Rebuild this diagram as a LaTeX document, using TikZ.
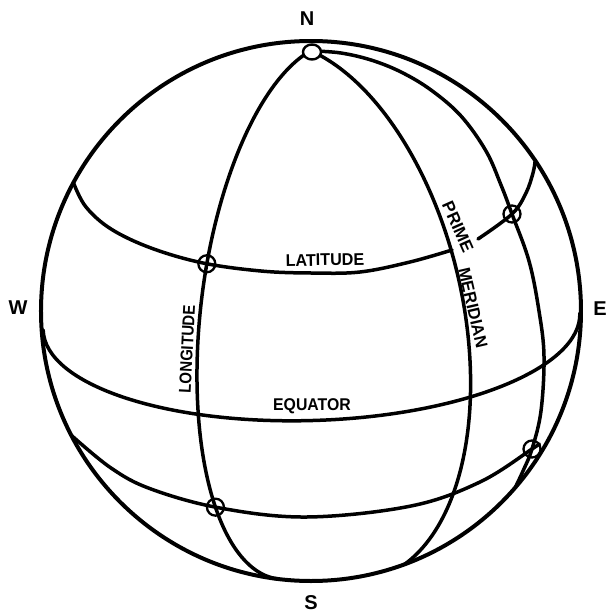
\documentclass[tikz,border=0pt]{standalone}
\usepackage{fontspec}
\usepackage{graphicx}
\setmainfont{Liberation Sans}
\usetikzlibrary{intersections}
\begin{document}
\begin{tikzpicture}[x=1pt,y=1pt,line cap=round,line join=round,
  curve/.style={line width=3.5pt},
  rimline/.style={line width=4pt},
  ringmark/.style={draw,circle,line width=2.3pt,minimum size=17pt,inner sep=0pt},
  lbl/.style={font=\bfseries\fontsize{17}{17}\selectfont,inner sep=0pt},
  compass/.style={font=\bfseries\fontsize{20}{20}\selectfont,inner sep=0pt}]
\useasboundingbox (-311,-303) rectangle (298,311);
\fill[white] (-311,-303) rectangle (298,311);

% outline of the globe
\draw[rimline] (0,0) circle[radius=270pt];

% equator
\draw[curve,shift={(0.5,-10.5)},rotate=1.8] (180:268.5pt and 99pt)
  arc[start angle=180,end angle=360,x radius=268.5pt,y radius=99pt];

% meridians
\draw[curve,name path=M1,rotate=83] (17:270pt and 110pt)
  arc[start angle=17,end angle=180,x radius=270pt,y radius=110pt];
\draw[curve,rotate=103] (-23:275pt and 151pt)
  arc[start angle=-23,end angle=-167,x radius=275pt,y radius=151pt];
\draw[curve] plot[smooth,tension=0.6] coordinates {(3,260) (30,258) (60,251) (90,239) (120,221) (150,195) (175,160) (190,126) (201,97) (218,50) (228,0) (233,-45) (230,-100) (221,-138) (212,-160) (204,-177)};

% upper latitude (broken at the prime meridian label)
\draw[curve,name path=L1] plot[smooth,tension=0.6] coordinates {(-237,127) (-225,104) (-200,82) (-160,63) (-108,48) (-50,40) (0,38) (49,39) (99,49) (141,61)};
\draw[curve] plot[smooth,tension=0.6] coordinates {(167,72) (201,97) (215,118) (222,138) (224,149)};

% lower latitude
\draw[curve,name path=L2] plot[smooth,tension=0.6] coordinates {(-240,-124) (-200,-157) (-160,-178) (-91,-197) (-4,-206) (100,-195) (169,-171) (221,-138) (228,-133)};

% markers
\path[name intersections={of=M1 and L1,by=p1}];
\path[name intersections={of=M1 and L2,by=p2}];
\node[ringmark] (k1) at (p1) {};
\node[ringmark] (k2) at (p2) {};
\node[ringmark] (k3) at (201,97) {};
\node[ringmark] (k4) at (221,-138) {};
\filldraw[fill=white,line width=2.4pt] (1,259) ellipse[x radius=9pt,y radius=7.5pt];

% labels
\node[lbl,rotate=1] (lat) at (14,51) {\scalebox{0.95}[1]{LATITUDE}};
\node[lbl] (eq) at (1,-95) {\scalebox{0.93}[1]{EQUATOR}};
\node[lbl,rotate=87] (lon) at (-124,-38) {\scalebox{0.88}[1]{LONGITUDE}};
\node[lbl,rotate=-66] (pr) at (147,84) {PRIME};
\node[lbl,rotate=-77] (mer) at (162,3) {\scalebox{0.97}[1]{MERIDIAN}};

\node[compass] (n) at (-4,292) {N};
\node[compass] (s) at (0,-292) {S};
\node[compass] (w) at (-293,3) {W};
\node[compass] (e) at (289,2) {E};
\end{tikzpicture}
\end{document}
